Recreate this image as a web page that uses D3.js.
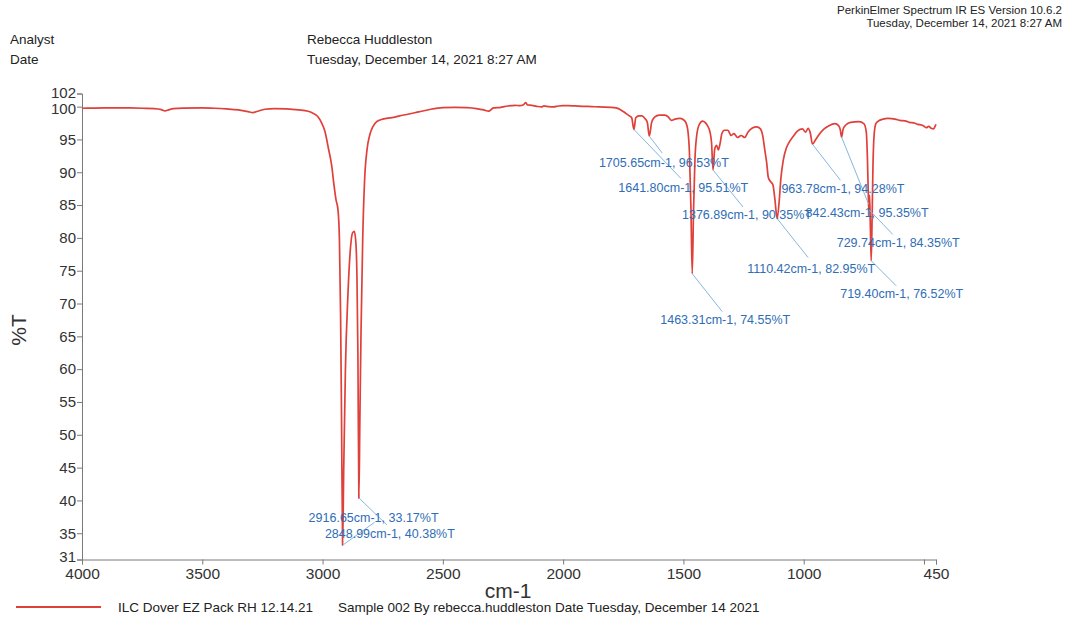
<!DOCTYPE html>
<html>
<head>
<meta charset="utf-8">
<script src="https://cdn.jsdelivr.net/npm/d3@7"></script>
<style>
  html, body { margin: 0; padding: 0; background: #fff; }
  svg { display: block; font-family: "Liberation Sans", Arial, sans-serif; }
</style>
</head>
<body>
<svg id="chart" width="1070" height="625"></svg>
<script>
// ---------------- DATA ----------------
const wavenumbers = [
  4000, 3950, 3900, 3850, 3800, 3750, 3700, 3670, 3655, 3640, 3620, 3580, 3500, 3450, 3400, 3350,
  3310, 3290, 3270, 3240, 3200, 3150, 3100, 3060, 3040, 3020, 3005, 2990, 2976, 2962, 2953, 2944,
  2936, 2930, 2925, 2921, 2916.65, 2912, 2905, 2895, 2885, 2875, 2868, 2862, 2857, 2853, 2848.99,
  2845, 2840, 2833, 2825, 2815, 2803, 2790, 2775, 2750, 2720, 2700, 2680, 2650, 2600, 2550, 2500,
  2450, 2400, 2360, 2330, 2310, 2290, 2260, 2230, 2200, 2180, 2165, 2155, 2148, 2130, 2110, 2090,
  2080, 2060, 2040, 2020, 2000, 1980, 1950, 1920, 1880, 1850, 1800, 1780, 1760, 1740, 1725, 1715,
  1705.65, 1698, 1685, 1672, 1660, 1650, 1641.8, 1632, 1620, 1600, 1580, 1565, 1550, 1535, 1515,
  1500, 1490, 1482, 1475, 1469, 1463.31, 1458, 1452, 1445, 1435, 1420, 1410, 1400, 1390, 1383,
  1376.89, 1370, 1362, 1355, 1348, 1340, 1330, 1315, 1302, 1290, 1275, 1260, 1245, 1232, 1215,
  1195, 1180, 1170, 1162, 1154, 1147, 1138, 1128, 1120, 1110.42, 1102, 1095, 1085, 1072, 1060,
  1045, 1025, 1005, 992, 982, 972, 963.78, 950, 935, 915, 895, 870, 855, 848, 842.43, 836, 825,
  805, 770, 750, 740, 735, 731, 729.74, 726, 723, 719.4, 716, 712, 707, 700, 690, 670, 650, 620,
  600, 575, 560, 540, 525, 510, 500, 490, 480, 470, 460, 455, 450
];
const transmittance = [
  99.75, 99.78, 99.8, 99.82, 99.8, 99.75, 99.7, 99.55, 99.35, 99.5, 99.7, 99.78, 99.8, 99.75, 99.65, 99.5,
  99.25, 99.1, 99.3, 99.6, 99.7, 99.65, 99.5, 99.3, 99.0, 98.5, 97.6, 96.2, 93.7, 91.0, 88.2, 85.8,
  84.3, 80, 68, 52, 33.17, 45, 60, 71, 78, 80.8, 81.0, 79.5, 74, 62, 40.38,
  52, 66, 80, 89, 93.5, 95.8, 97, 97.7, 98.1, 98.3, 98.4, 98.6, 98.8, 99.2, 99.6, 99.85,
  99.9, 99.85, 99.7, 99.5, 99.3, 99.8, 99.9, 100.1, 100.2, 100.15, 100.3, 100.6, 100.25, 100.2, 100.05, 99.95,
  100.1, 100.0, 99.95, 100.1, 100.15, 100.15, 100.1, 100.05, 100.0, 99.95, 99.9, 99.8, 99.5, 99.0, 98.6, 98.3,
  96.53, 98.3, 98.6, 98.6, 98.2, 97.6, 95.51, 97.6, 98.4, 98.7, 98.7, 98.5, 97.9, 98.1, 98.2,
  98.0, 97.6, 96.5, 93, 85, 74.55, 84, 92, 95.5, 97.2, 97.8, 97.6, 97.1, 96.2, 94.5,
  90.35, 93.5, 94.1, 93.4, 94.3, 95.9, 96.4, 96.4, 95.6, 95.9, 95.3, 95.6, 95.3, 96.1, 96.7,
  96.9, 96.6, 95.5, 93.5, 91.5, 89.2, 88.6, 88.1, 86, 82.95, 85.5, 89, 91.8, 93.7, 94.6,
  95.4, 96.3, 96.6, 96.1, 96.7, 95.9, 94.28, 95.0, 95.8, 96.6, 97.1, 97.4, 97.1, 96.5, 95.35, 96.6, 97.2,
  97.6, 97.7, 97.4, 96.2, 92, 86, 84.35, 86.5, 82, 76.52, 82, 91, 95.8, 97.4, 97.8, 98.1, 98.2, 98.1,
  97.9, 97.8, 97.6, 97.5, 97.3, 97.2, 97.0, 96.8, 97.0, 96.7, 96.6, 96.9, 97.3
];

// Labelled peaks
const peakWavenumbers   = [2916.65, 2848.99, 1705.65, 1641.80, 1463.31, 1376.89, 1110.42, 963.78, 842.43, 729.74, 719.40];
const peakTransmittance = [33.17, 40.38, 96.53, 95.51, 74.55, 90.35, 82.95, 94.28, 95.35, 84.35, 76.52];

// Axis ticks
const xTickValues = [4000, 3500, 3000, 2500, 2000, 1500, 1000, 500, 450];
const xTickLabels = ["4000", "3500", "3000", "2500", "2000", "1500", "1000", "", "450"];
const yTickValues = [102, 100, 95, 90, 85, 80, 75, 70, 65, 60, 55, 50, 45, 40, 35, 31];

// Texts
const headerLeft  = [["Analyst", "Rebecca Huddleston"], ["Date", "Tuesday, December 14, 2021 8:27 AM"]];
const headerRight = ["PerkinElmer Spectrum IR ES Version 10.6.2", "Tuesday, December 14, 2021 8:27 AM"];
const legendName = "ILC Dover EZ Pack RH 12.14.21";
const legendInfo = "Sample 002 By rebecca.huddleston Date Tuesday, December 14 2021";

// ---------------- LAYOUT (pixel offsets of label / leader end from peak) ----------------
const labelLayout = [
  { lx: -34, ly: -28, ex: 32, ey: -23 },
  { lx: -34, ly: 36,  ex: 28, ey: 27 },
  { lx: -35, ly: 33,  ex: 47, ey: 49 },
  { lx: -31, ly: 52,  ex: 13, ey: 17 },
  { lx: -32, ly: 46,  ex: 30, ey: 38 },
  { lx: -31, ly: 45,  ex: 30, ey: 37 },
  { lx: -30, ly: 50,  ex: 31, ey: 39 },
  { lx: -31, ly: 44,  ex: 28, ey: 36 },
  { lx: -36, ly: 75,  ex: 27, ey: 67 },
  { lx: -32, ly: 33,  ex: 24, ey: 25 },
  { lx: -31, ly: 33,  ex: 25, ey: 25 }
];
// small vertical nudges of crowded y tick labels (px)
const yLabelNudge = { 102: -1, 100: 2, 31: -3 };

// ---------------- DRAW ----------------
const svg = d3.select("#chart");
svg.append("rect").attr("width", 1070).attr("height", 625).attr("fill", "#fff");

const x = d3.scaleLinear().domain([4000, 450]).range([82, 936]);
const y = d3.scaleLinear().domain([102, 31]).range([93.5, 559.5]);

const axisColor = "#7a7a7a";
const textColor = "#333";

// Header
headerLeft.forEach((row, i) => {
  svg.append("text").attr("x", 10).attr("y", 44 + i * 20).attr("font-size", 13.5).attr("fill", "#222").text(row[0]);
  svg.append("text").attr("x", 307).attr("y", 44 + i * 20).attr("font-size", 13.5).attr("fill", "#222").text(row[1]);
});
headerRight.forEach((t, i) => {
  svg.append("text").attr("x", 1062).attr("y", 14 + i * 13).attr("font-size", 11.5)
    .attr("text-anchor", "end").attr("fill", "#222").text(t);
});

// Axes
const yAxis = d3.axisLeft(y).tickValues(yTickValues).tickSize(5).tickPadding(1).tickFormat(d3.format("d"));
const gy = svg.append("g").attr("transform", `translate(${x(4000)},0)`).call(yAxis);
gy.select(".domain").attr("stroke", axisColor);
gy.selectAll(".tick line").attr("stroke", axisColor);
gy.selectAll(".tick text").attr("font-size", 15).attr("fill", textColor)
  .attr("font-family", "Liberation Sans, Arial, sans-serif")
  .attr("y", d => yLabelNudge[d] || 0);

const xAxis = d3.axisBottom(x).tickValues(xTickValues).tickSize(5).tickPadding(3)
  .tickFormat((d, i) => xTickLabels[i]);
const gx = svg.append("g").attr("transform", `translate(0,${y(31)})`).call(xAxis);
gx.select(".domain").attr("stroke", axisColor);
gx.selectAll(".tick line").attr("stroke", axisColor);
gx.selectAll(".tick text").attr("font-size", 15.5).attr("fill", textColor)
  .attr("font-family", "Liberation Sans, Arial, sans-serif");

// Axis titles
svg.append("text").attr("x", 508).attr("y", 598).attr("text-anchor", "middle")
  .attr("font-size", 21).attr("fill", textColor).text("cm-1");
svg.append("text").attr("transform", "translate(26,330) rotate(-90)").attr("text-anchor", "middle")
  .attr("font-size", 21).attr("fill", textColor).text("%T");

// Spectrum
const spectrum = wavenumbers.map((w, i) => [w, transmittance[i]]).reverse();
const line = d3.line().x(d => x(d[0])).y(d => y(d[1])).curve(d3.curveMonotoneX);
svg.append("path").datum(spectrum)
  .attr("d", line)
  .attr("fill", "none").attr("stroke", "#e0403a").attr("stroke-width", 1.7)
  .attr("stroke-linejoin", "round");

// Peak annotations
const peaks = peakWavenumbers.map((w, i) => ({
  w, t: peakTransmittance[i],
  label: `${w.toFixed(2)}cm-1, ${peakTransmittance[i].toFixed(2)}%T`,
  lay: labelLayout[i]
}));
const ann = svg.append("g");
ann.selectAll("line").data(peaks).join("line")
  .attr("x1", d => x(d.w)).attr("y1", d => y(d.t))
  .attr("x2", d => x(d.w) + d.lay.ex).attr("y2", d => y(d.t) + d.lay.ey)
  .attr("stroke", "#86b6df").attr("stroke-width", 1);
ann.selectAll("text").data(peaks).join("text")
  .attr("x", d => x(d.w) + d.lay.lx).attr("y", d => y(d.t) + d.lay.ly)
  .attr("dy", "0.35em").attr("font-size", 12.5).attr("fill", "#2f6db5")
  .text(d => d.label);

// Legend
svg.append("line").attr("x1", 16).attr("x2", 101).attr("y1", 607).attr("y2", 607)
  .attr("stroke", "#e0403a").attr("stroke-width", 2);
svg.append("text").attr("x", 118).attr("y", 612).attr("font-size", 13.5).attr("fill", "#222").text(legendName);
svg.append("text").attr("x", 338).attr("y", 612).attr("font-size", 13.5).attr("fill", "#222").text(legendInfo);
</script>
</body>
</html>
